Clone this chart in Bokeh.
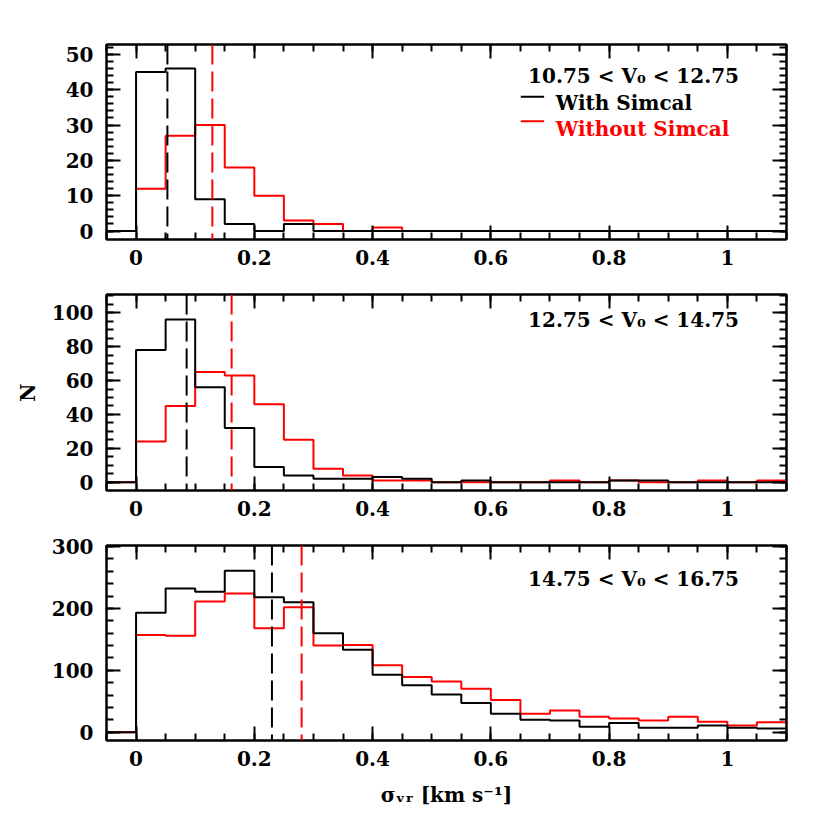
from bokeh.plotting import figure
from bokeh.models import Range1d, LinearAxis, FixedTicker, Span, Label, CustomLabelingPolicy
from bokeh.layouts import column
from bokeh.embed import file_html
from bokeh.resources import INLINE

# ---------------- data ----------------
bin_edges = [-0.05, 0.0, 0.05, 0.1, 0.15, 0.2, 0.25, 0.3, 0.35, 0.4, 0.45, 0.5,
             0.55, 0.6, 0.65, 0.7, 0.75, 0.8, 0.85, 0.9, 0.95, 1.0, 1.05, 1.1]

# panel 1 : 10.75 < V0 < 12.75
p1_with = [0, 45, 46, 9, 2, 0, 2, 0, 0, 0, 0, 0, 0, 0, 0, 0, 0, 0, 0, 0, 0, 0, 0]
p1_without = [0, 12, 27, 30, 18, 10, 3, 2, 0, 1, 0, 0, 0, 0, 0, 0, 0, 0, 0, 0, 0, 0, 0]
p1_median_with = 0.053
p1_median_without = 0.129

# panel 2 : 12.75 < V0 < 14.75
p2_with = [0, 78, 96, 56, 32, 9, 4, 2, 2, 3, 2, 0, 1, 0, 0, 0, 0, 1, 1, 0, 0, 0, 0]
p2_without = [0, 24, 45, 65, 63, 46, 25, 8, 4, 1, 1, 0, 0, 0, 0, 1, 0, 1, 0, 0, 1, 0, 1]
p2_median_with = 0.0855
p2_median_without = 0.1616

# panel 3 : 14.75 < V0 < 16.75
p3_with = [0, 193, 232, 227, 261, 218, 210, 160, 133, 93, 76, 61, 47, 30, 20, 19,
           9, 15, 7, 7, 11, 7, 6]
p3_without = [0, 157, 156, 211, 224, 168, 202, 140, 141, 108, 89, 82, 70, 52, 30, 35,
              25, 22, 19, 25, 17, 11, 16]
p3_median_with = 0.2298
p3_median_without = 0.280

panel_titles = ["10.75 < V\u2080 < 12.75", "12.75 < V\u2080 < 14.75", "14.75 < V\u2080 < 16.75"]
legend_labels = ["With Simcal", "Without Simcal"]

x_ticks = [0, 0.2, 0.4, 0.6, 0.8, 1.0]
x_tick_labels = ["0", "0.2", "0.4", "0.6", "0.8", "1"]
p1_yticks = [0, 10, 20, 30, 40, 50]
p2_yticks = [0, 20, 40, 60, 80, 100]
p3_yticks = [0, 100, 200, 300]

FONT = "DejaVu Serif"
FS = "20px"
BLACK = "#000000"
RED = "#ff0000"

NO_LABELS = """
try { return new indices.constructor(indices.size, 0) } catch (e) {}
for (let i = 0; i < indices.size; i++) { indices.unset(i) }
return indices
"""


def minor_list(start, stop, step):
    out = []
    v = start
    while v <= stop + 1e-9:
        out.append(round(v, 6))
        v += step
    return out


def style_axis(ax, show_labels):
    ax.axis_line_width = 2
    ax.axis_line_color = BLACK
    ax.major_tick_in = 14
    ax.major_tick_out = 0
    ax.minor_tick_in = 7
    ax.minor_tick_out = 0
    ax.major_tick_line_width = 2
    ax.minor_tick_line_width = 2
    ax.major_tick_line_color = BLACK
    ax.minor_tick_line_color = BLACK
    ax.major_label_text_font = FONT
    ax.major_label_text_font_style = "bold"
    ax.major_label_text_color = BLACK
    ax.major_label_text_font_size = FS
    if not show_labels:
        ax.major_label_policy = CustomLabelingPolicy(code=NO_LABELS)
        ax.major_label_standoff = 0


def make_panel(with_counts, without_counts, med_with, med_without, yticks, yminor,
               yrange, frame_h, top, bottom, title, title_y):
    p = figure(x_range=Range1d(-0.05, 1.1), y_range=Range1d(*yrange),
               frame_width=680, frame_height=frame_h,
               min_border_left=106, min_border_right=20,
               min_border_top=top, min_border_bottom=bottom,
               x_axis_type=None, y_axis_type=None,
               output_backend="svg", toolbar_location=None)
    p.xgrid.visible = False
    p.ygrid.visible = False
    p.outline_line_color = BLACK
    p.outline_line_width = 2
    p.background_fill_color = "white"
    p.border_fill_color = "white"

    xt = FixedTicker(ticks=x_ticks, minor_ticks=minor_list(-0.05, 1.1, 0.05))
    yt = FixedTicker(ticks=yticks, minor_ticks=yminor)
    overrides = {t: s for t, s in zip(x_ticks, x_tick_labels)}

    xb = LinearAxis(ticker=xt)
    style_axis(xb, True)
    xb.major_label_overrides = overrides
    xb.major_label_standoff = 10
    p.add_layout(xb, "below")

    xa = LinearAxis(ticker=xt)
    style_axis(xa, False)
    p.add_layout(xa, "above")

    yl = LinearAxis(ticker=yt)
    style_axis(yl, True)
    yl.major_label_standoff = 13
    p.add_layout(yl, "left")

    yr = LinearAxis(ticker=yt)
    style_axis(yr, False)
    p.add_layout(yr, "right")

    ys_without = list(without_counts) + [without_counts[-1]]
    ys_with = list(with_counts) + [with_counts[-1]]
    p.step(x=bin_edges, y=ys_without, mode="after", line_color=RED, line_width=2)
    p.step(x=bin_edges, y=ys_with, mode="after", line_color=BLACK, line_width=2)

    p.add_layout(Span(location=med_with, dimension="height", line_color=BLACK,
                      line_width=2, line_dash="20 7"))
    p.add_layout(Span(location=med_without, dimension="height", line_color=RED,
                      line_width=2, line_dash="20 7"))

    p.add_layout(Label(x=0.8413, y=title_y, text=title, text_font=FONT,
                       text_font_size=FS, text_font_style="bold", text_align="center",
                       text_baseline="alphabetic", text_color=BLACK))
    return p, yl, xb


p1, _, _ = make_panel(p1_with, p1_without, p1_median_with, p1_median_without,
                      p1_yticks, minor_list(0, 52, 2), (-2.4, 52.8), 195, 44, 32,
                      panel_titles[0], 43.9)
p2, p2_left, _ = make_panel(p2_with, p2_without, p2_median_with, p2_median_without,
                            p2_yticks, minor_list(0, 110, 5), (-4.9, 110.8), 196, 23, 32,
                            panel_titles[1], 95.5)
p3, _, p3_bottom = make_panel(p3_with, p3_without, p3_median_with, p3_median_without,
                              p3_yticks, minor_list(0, 300, 20), (-13.4, 301.6), 195, 23, 67,
                              panel_titles[2], 247.4)

# legend inside panel 1
p1.segment(x0=[0.6506, 0.6506], y0=[38.0, 31.1], x1=[0.6901, 0.6901], y1=[38.0, 31.1],
           line_color=[BLACK, RED], line_width=2)
p1.add_layout(Label(x=0.7098, y=36.1, text=legend_labels[0], text_font=FONT,
                    text_font_size=FS, text_font_style="bold",
                    text_baseline="alphabetic", text_color=BLACK))
p1.add_layout(Label(x=0.7098, y=29.0, text=legend_labels[1], text_font=FONT,
                    text_font_size=FS, text_font_style="bold",
                    text_baseline="alphabetic", text_color=RED))

p2_left.axis_label = "N"
p2_left.axis_label_text_font = FONT
p2_left.axis_label_text_font_size = FS
p2_left.axis_label_text_font_style = "bold"
p2_left.axis_label_text_color = BLACK
p2_left.axis_label_standoff = 9

p3_bottom.axis_label = "\u03c3\u1d65\u1d63 [km s\u207b\u00b9]"
p3_bottom.axis_label_text_font = FONT
p3_bottom.axis_label_text_font_size = FS
p3_bottom.axis_label_text_font_style = "bold"
p3_bottom.axis_label_text_color = BLACK
p3_bottom.axis_label_standoff = 14

layout = column(p1, p2, p3, spacing=0)

with open("out.html", "w") as f:
    f.write(file_html(layout, INLINE))
